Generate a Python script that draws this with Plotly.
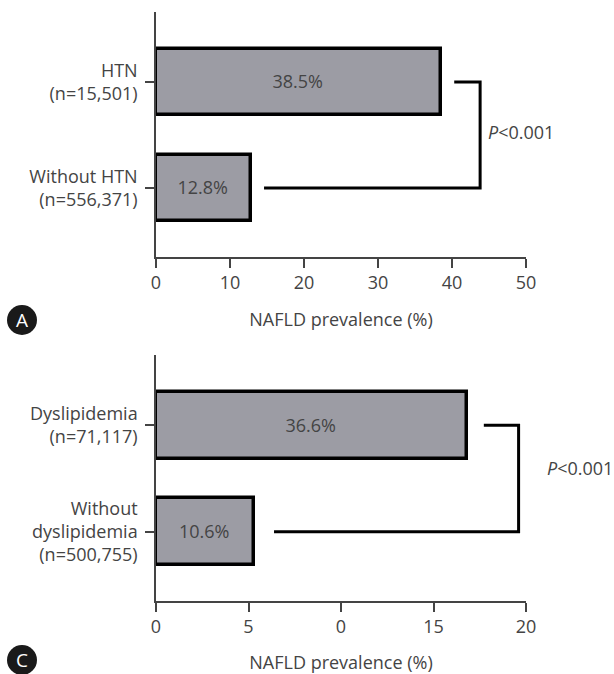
import plotly.graph_objects as go

# ---- Panel A data ----
cats_a = ["Without HTN<br>(n=556,371)", "HTN<br>(n=15,501)"]
vals_a = [12.8, 38.5]
labels_a = ["12.8%", "38.5%"]
ticks_a = [0, 10, 20, 30, 40, 50]
ticktext_a = ["0", "10", "20", "30", "40", "50"]

# ---- Panel C data ----
cats_c = ["Without<br>dyslipidemia<br>(n=500,755)", "Dyslipidemia<br>(n=71,117)"]
vals_c = [5.3, 16.8]
labels_c = ["10.6%", "36.6%"]
ticks_c = [0, 5, 10, 15, 20]
ticktext_c = ["0", "5", "0", "15", "20"]

p_text = "<i>P</i>&lt;0.001"
x_title = "NAFLD prevalence (%)"

W, H = 614, 674
FONT = "Open Sans"
TXT = "#444444"
BAR_FILL = "#9c9ca4"

fig = go.Figure()

def add_panel(cats, vals, labels, xa, ya, g_up, g_low, x_right):
    fig.add_trace(go.Bar(
        y=cats, x=vals, orientation="h", width=0.63,
        marker=dict(color=BAR_FILL, line=dict(color="black", width=3.5)),
        text=labels, textposition="inside", insidetextanchor="middle",
        textangle=0, textfont=dict(family=FONT, size=18, color=TXT),
        xaxis=xa, yaxis=ya, showlegend=False, hoverinfo="skip",
    ))
    fig.add_trace(go.Scatter(
        x=[vals[1] + g_up, x_right, x_right, vals[0] + g_low],
        y=[cats[1], cats[1], cats[0], cats[0]],
        mode="lines", line=dict(color="black", width=3),
        xaxis=xa, yaxis=ya, showlegend=False, hoverinfo="skip",
    ))

add_panel(cats_a, vals_a, labels_a, "x", "y", 1.8, 1.8, 43.8)
add_panel(cats_c, vals_c, labels_c, "x2", "y2", 0.92, 1.08, 19.6)

xdom = [156 / W, 526 / W]
common_x = dict(
    showline=True, linecolor="#444", linewidth=1.5,
    ticks="outside", ticklen=9, tickwidth=1.5, tickcolor="#444",
    showgrid=False, zeroline=False, domain=xdom,
    tickfont=dict(family=FONT, size=18, color=TXT),
    title=dict(text=x_title, font=dict(family=FONT, size=18, color=TXT), standoff=20),
    automargin=False, fixedrange=True,
)
common_y = dict(
    showline=True, linecolor="#444", linewidth=1.5,
    ticks="outside", ticklen=9, tickwidth=1.5, tickcolor="#444",
    showgrid=False, zeroline=False, type="category",
    range=[-0.65, 1.66],
    tickfont=dict(family=FONT, size=18, color=TXT),
    ticklabelstandoff=4, automargin=False, fixedrange=True,
)

fig.update_layout(
    width=W, height=H, margin=dict(l=0, r=0, t=0, b=0),
    paper_bgcolor="white", plot_bgcolor="white",
    font=dict(family=FONT, color=TXT),
    xaxis=dict(common_x, range=[0, 50], tickvals=ticks_a, ticktext=ticktext_a, anchor="y"),
    yaxis=dict(common_y, domain=[1 - 257 / H, 1 - 12 / H], anchor="x"),
    xaxis2=dict(common_x, range=[0, 20], tickvals=ticks_c, ticktext=ticktext_c, anchor="y2"),
    yaxis2=dict(common_y, domain=[1 - 601 / H, 1 - 355 / H], anchor="x2"),
    bargap=0,
)

# P-value annotations
fig.add_annotation(x=43.8, y=0.53, xref="x", yref="y", text=p_text, showarrow=False,
                   xanchor="left", xshift=6, font=dict(family=FONT, size=18, color=TXT))
fig.add_annotation(x=19.6, y=0.6, xref="x2", yref="y2", text=p_text, showarrow=False,
                   xanchor="left", xshift=26, font=dict(family=FONT, size=18, color=TXT))

# Panel letters
for letter, cy in [("A", 320), ("C", 660)]:
    fig.add_shape(type="circle", xref="paper", yref="paper",
                  x0=(22 - 15) / W, x1=(22 + 15) / W,
                  y0=1 - (cy + 15) / H, y1=1 - (cy - 15) / H,
                  fillcolor="#1a1a1a", line=dict(width=0))
    fig.add_annotation(x=22 / W, y=1 - cy / H, xref="paper", yref="paper",
                       text=letter, showarrow=False, xanchor="center", yanchor="middle",
                       font=dict(family=FONT, size=19, color="white"))

fig.write_html("out.html", config={"displayModeBar": False},
               post_script="document.body.style.margin='0';document.body.style.padding='0';")
